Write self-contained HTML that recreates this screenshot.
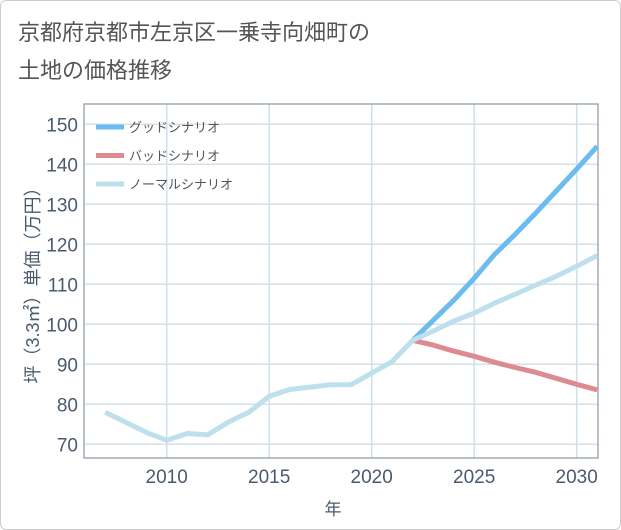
<!DOCTYPE html>
<html><head><meta charset="utf-8"><style>
body{margin:0;background:#fff;}
#wrap{position:relative;width:619px;height:528px;border:1px solid #ccc;border-radius:6px;overflow:hidden;font-family:"Liberation Sans","Noto Sans CJK JP",sans-serif;}
#title{position:absolute;left:17px;top:13px;font-size:22px;line-height:38px;color:#555;}
svg{position:absolute;left:0;top:0;}
</style></head><body>
<div id="wrap">
<div id="title">京都府京都市左京区一乗寺向畑町の<br>土地の価格推移</div>
<svg id="chart" width="621" height="530"></svg>
</div>
<script>
const years=[2007,2008,2009,2010,2011,2012,2013,2014,2015,2016,2017,2018,2019,2020,2021,2022,2023,2024,2025,2026,2027,2028,2029,2030,2031];
const normalVals=[78,75.5,73,71,72.7,72.4,75.5,78,82,83.7,84.3,84.9,84.9,87.8,90.7,96,98.3,100.8,102.8,105.3,107.5,109.8,112,114.5,117.2];
const futureYears=[2022,2023,2024,2025,2026,2027,2028,2029,2030,2031];
const goodVals=[96,101,106,111.5,117.5,122.5,127.8,133.3,138.8,144.5];
const badVals=[96,94.8,93.3,92,90.5,89.2,88,86.5,85,83.6];
const yTicks=[70,80,90,100,110,120,130,140,150];
const xTicks=[2010,2015,2020,2025,2030];
const L=83,R=597,T=103,B=457;
const xs=y=>165.7+(y-2010)*20.5;
const ys=v=>443.3-(v-70)*4;
const svg=document.getElementById('chart');
const NS='http://www.w3.org/2000/svg';
function mk(t,a){const e=document.createElementNS(NS,t);for(const k in a)e.setAttribute(k,a[k]);svg.appendChild(e);return e;}
for(const v of yTicks){
 const l=mk('line',{x1:L,x2:R,y1:ys(v),y2:ys(v),stroke:'#d5e0ea','stroke-width':1.5});
 
 
 const t=mk('text',{x:L-6,y:ys(v)+7,'text-anchor':'end','font-size':19,fill:'#4a5a6e'});
 t.textContent=v;
 
 
}
for(const v of xTicks){
 const l=mk('line',{x1:xs(v),x2:xs(v),y1:T,y2:B,stroke:'#cfe0ec','stroke-width':1.5});
 
 
 const t=mk('text',{x:xs(v),y:B+25,'text-anchor':'middle','font-size':19,fill:'#4a5a6e'});
 t.textContent=v;
 
 
}
const fr=mk('rect',{x:L,y:T,width:R-L,height:B-T,fill:'none',stroke:'#8a96a3','stroke-width':1.2});


function line(xv,yv,c,name){
 const p=mk('polyline',{points:xv.map((x,i)=>xs(x)+','+ys(yv[i])).join(' '),fill:'none',stroke:c,'stroke-width':5,'stroke-linejoin':'round'});
 
 
}
line(futureYears,goodVals,'#6bbcf0','good-scenario-line');
line(futureYears,badVals,'#dd8a90','bad-scenario-line');
line(years,normalVals,'#bde0ec','normal-scenario-line');
const leg=[['グッドシナリオ','#6bbcf0'],['バッドシナリオ','#dd8a90'],['ノーマルシナリオ','#bde0ec']];
leg.forEach((d,i)=>{
 const y=126+i*28.5;
 const l=mk('line',{x1:95,x2:123,y1:y,y2:y,stroke:d[1],'stroke-width':5});
 
 
 const t=mk('text',{x:128,y:y+5,'font-size':13,fill:'#555'});
 t.textContent=d[0];
 
 
});
const yt=mk('text',{transform:'translate(38,280) rotate(-90)','text-anchor':'middle','font-size':18,fill:'#4a5a6e'});
yt.textContent='坪（3.3㎡）単価（万円）';


const xt=mk('text',{x:332,y:514,'text-anchor':'middle','font-size':17,fill:'#4a5a6e'});
xt.textContent='年';


</script>
</body></html>
